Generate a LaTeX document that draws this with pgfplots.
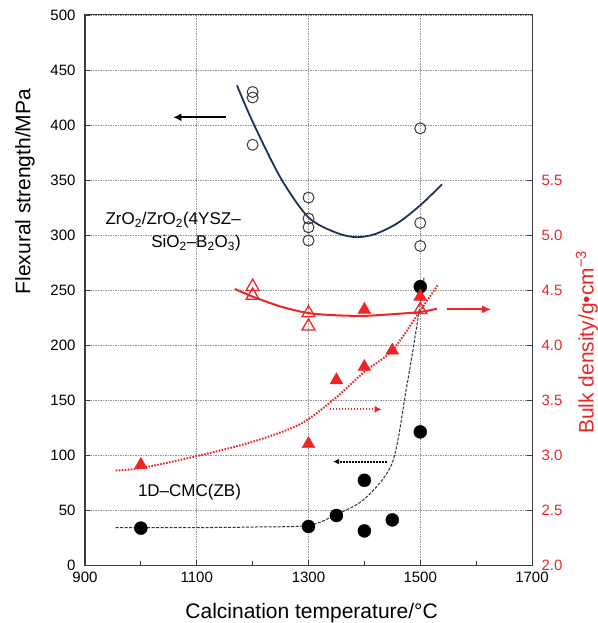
\documentclass[border=0pt]{standalone}
\usepackage{fontspec}
\setmainfont{Liberation Sans}
\usepackage{pgfplots}
\pgfplotsset{compat=1.18}
\usetikzlibrary{arrows.meta}
\definecolor{myred}{RGB}{236,38,38}
\definecolor{navy}{RGB}{30,52,85}
\definecolor{axgray}{RGB}{60,60,60}
\begin{document}
\begin{tikzpicture}
\pgfplotsset{common/.style={scale only axis, width=447pt, height=550pt,
  xmin=900, xmax=1700, clip=false, tick align=inside,
  major tick length=5pt, minor tick length=4pt,
  /pgf/number format/assume math mode=true,
  /pgf/number format/1000 sep={},
  tick label style={font=\fontsize{15}{15}\selectfont},
  axis line style={axgray, line width=1pt},
  tick style={axgray, line width=0.8pt}}}
\begin{axis}[common, name=ax, ymin=0, ymax=500,
  xtick={900,1100,...,1700}, minor xtick={1000,1200,1400,1600},
  ytick={0,50,...,500}, xtick pos=left, ytick pos=left,
  xmajorgrids, ymajorgrids,
  grid style={axgray!55, dash pattern=on 1.5pt off 1pt, line width=0.7pt},
  xticklabel style={yshift=-3pt},
  yticklabel style={xshift=-6pt}]
% ZrO2/ZrO2 fit curve
\addplot[navy, line width=1.8pt, smooth, no marks] coordinates {
 (1172,436) (1200,403) (1250,352) (1300,316) (1350,302) (1386,298)
 (1420,301) (1460,311) (1500,327) (1539,346)};
% ZrO2/ZrO2 flexural strength
\addplot[only marks, mark=o, mark size=5.5pt, mark options={draw=axgray, fill=white, line width=1pt}] coordinates {
 (1200,430) (1200,425) (1200,382) (1300,334) (1300,315) (1300,307) (1300,295)
 (1500,397) (1500,311) (1500,290)};
% 1D-CMC fit curve
\addplot[black!80, line width=1pt, dash pattern=on 3pt off 1.5pt, smooth, tension=0.5, no marks] coordinates {
 (955,34) (1100,34) (1200,34.5) (1300,36) (1350,46) (1400,60) (1450,93)
 (1475,160) (1490,205) (1501,241) (1507,262)};
% 1D-CMC flexural strength
\addplot[only marks, mark=*, mark size=6.5pt, mark options={draw=black, fill=black}] coordinates {
 (1000,33.5) (1300,35) (1350,45) (1400,77) (1400,31) (1450,41) (1500,121) (1500,253)};
% arrows
\addplot[black, line width=2pt, -{Latex[length=8pt,width=8pt]}] coordinates {(1153,407) (1058,407)};
\addplot[black, line width=2pt, dash pattern=on 1.6pt off 1.4pt, -{Latex[length=6pt,width=6pt]}] coordinates {(1440,94) (1344,94)};
\node[anchor=east, align=right, font=\fontsize{17}{23}\selectfont] at (axis cs:1185,303)
 {ZrO\textsubscript{2}/ZrO\textsubscript{2}(4YSZ–\\SiO\textsubscript{2}–B\textsubscript{2}O\textsubscript{3})};
\node[font=\fontsize{17}{17}\selectfont] at (axis cs:1087,66) {1D–CMC(ZB)};
\node[rotate=90, font=\fontsize{21}{21}\selectfont] at ([xshift=-60pt]rel axis cs:0,0.679) {Flexural strength/MPa};
\node[font=\fontsize{21}{21}\selectfont] at ([yshift=-48pt]rel axis cs:0.507,0) {Calcination temperature/°C};
\end{axis}
\begin{axis}[common, ymin=2, ymax=7, hide x axis,
  ytick={2,2.5,...,5.5}, ytick pos=right, yticklabel pos=right,
  yticklabel style={myred, xshift=6pt, /pgf/number format/.cd, fixed, fixed zerofill, precision=1}]
% ZrO2/ZrO2 density fit
\addplot[myred, line width=2pt, smooth, no marks] coordinates {
 (1168,4.51) (1200,4.44) (1250,4.35) (1300,4.29) (1350,4.27) (1400,4.265)
 (1450,4.28) (1500,4.30) (1530,4.33)};
% 1D-CMC density fit
\addplot[myred, line width=2pt, dash pattern=on 1.6pt off 1.4pt, smooth, no marks] coordinates {
 (955,2.86) (1000,2.88) (1100,2.99) (1200,3.12) (1285,3.28) (1344,3.50)
 (1401,3.76) (1450,3.95) (1501,4.32) (1532,4.55)};
% ZrO2/ZrO2 density
\addplot[only marks, mark=triangle, mark size=7.5pt, mark options={draw=myred, fill=white, line width=1.3pt}] coordinates {
 (1200,4.53) (1200,4.45) (1300,4.29) (1300,4.17) (1500,4.32)};
% 1D-CMC density
\addplot[only marks, mark=triangle*, mark size=7.5pt, mark options={draw=myred, fill=myred}] coordinates {
 (1000,2.91) (1300,3.10) (1350,3.68) (1400,3.80) (1400,4.32) (1450,3.95) (1500,4.44)};
\addplot[myred, line width=2.2pt, -{Latex[length=9pt,width=8pt]}] coordinates {(1547,4.324) (1627,4.324)};
\addplot[myred, line width=2pt, dash pattern=on 1.6pt off 1.4pt, -{Latex[length=7pt,width=7pt]}] coordinates {(1338,3.415) (1431,3.415)};
\node[rotate=90, myred, font=\fontsize{21}{21}\selectfont] at ([xshift=55pt]rel axis cs:1,0.405) {Bulk density/g•cm\textsuperscript{−3}};
\end{axis}
\pgfresetboundingbox
\path ([shift={(-85pt,-58pt)}]ax.south west) rectangle ([shift={(65pt,15pt)}]ax.north east);
\end{tikzpicture}
\end{document}
